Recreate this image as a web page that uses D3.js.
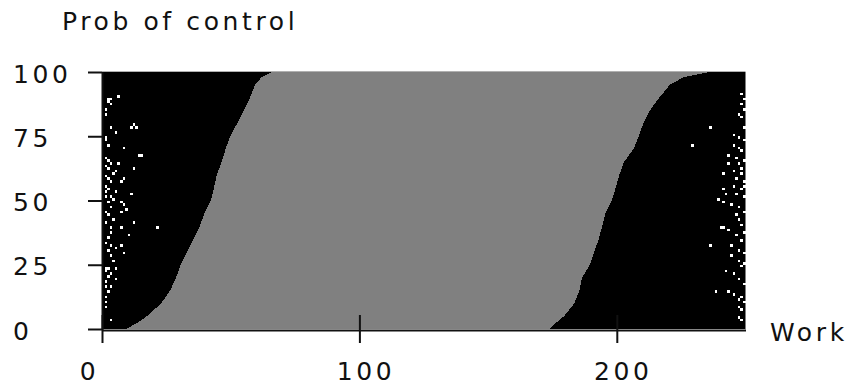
<!DOCTYPE html>
<html>
<head>
<meta charset="utf-8">
<script src="https://cdn.jsdelivr.net/npm/d3@7"></script>
<style>
  body { margin: 0; background: #fff; }
  .lbl { font-family: "DejaVu Sans", sans-serif; font-size: 25px; letter-spacing: 3.6px; fill: #111; }
</style>
</head>
<body>
<div id="chart"></div>
<script>
// probability levels (y) and the work values where the grey band starts / ends
const probLevels = [0, 2.5, 5, 10, 15, 20, 25, 30, 35, 40, 45, 50, 55, 60, 65, 70, 75, 80, 85, 90, 95, 98, 100];
const leftEdge = [9.5, 13.8, 17.5, 23, 26.5, 28.8, 30.5, 33, 35.5, 38, 39.8, 42.3, 43.5, 44.6, 46.5, 48, 49.8, 52.5, 55, 57.5, 59.5, 62, 66];
const rightEdge = [174, 176.5, 179.5, 183.5, 185.5, 186.5, 189.5, 191.2, 193, 194.3, 195.6, 198, 199.6, 201, 202.8, 206.5, 208.5, 210.3, 212.8, 216.5, 220.6, 226, 236];

// white cells [work, prob] in the black regions
const leftSpecks = [
  [2, 89], [3, 89], [2, 88], [3, 87], [6, 90], [1, 85], [1, 83], [3, 78], [5, 76], [11, 78], [12, 79], [13, 78],
  [1, 74], [1, 73], [2, 71], [8, 70], [14, 67], [15, 67], [1, 66], [2, 65], [3, 64], [1, 63], [6, 64], [5, 61],
  [12, 62], [1, 59], [2, 58], [3, 57], [1, 55], [7, 57], [8, 58], [1, 53], [3, 51], [4, 50], [11, 52],
  [1, 51], [2, 49], [3, 47], [1, 45], [7, 49], [8, 48], [9, 46], [7, 45], [12, 41], [21, 39], [1, 41], [3, 39],
  [3, 37], [2, 35], [7, 39], [10, 36], [1, 33], [3, 32], [5, 31], [7, 32], [8, 29], [3, 28], [1, 23], [2, 23],
  [1, 22], [3, 21], [5, 23], [5, 19], [1, 18], [1, 16], [3, 16], [1, 12], [1, 10], [1, 8], [3, 3],
  [2, 62], [4, 60], [2, 54], [5, 53], [2, 44], [4, 42], [2, 30], [4, 26], [2, 20], [2, 14]
];
const rightSpecks = [
  [248, 91], [249, 89], [248, 87], [249, 85], [247, 83], [248, 82], [236, 78], [229, 71], [245, 75], [247, 74],
  [249, 73], [245, 71], [247, 70], [248, 69], [243, 67], [246, 66], [249, 65], [243, 64], [247, 64], [241, 60],
  [245, 61], [248, 60], [246, 58], [249, 57], [245, 55], [248, 54], [241, 54], [242, 52], [246, 52], [249, 51],
  [239, 50], [241, 49], [244, 48], [247, 47], [249, 45], [247, 42], [240, 39], [241, 39], [236, 32], [243, 38],
  [246, 36], [248, 34], [244, 32], [247, 30], [249, 29], [247, 26], [249, 25], [242, 22], [245, 21], [247, 19],
  [238, 14], [243, 14], [245, 13], [247, 11], [249, 10], [247, 8], [248, 7], [247, 4], [248, 3],
  [249, 78], [248, 62], [249, 55], [248, 40], [249, 37], [248, 24], [249, 17], [248, 12], [246, 44], [244, 28]
];

const xTicks = [0, 100, 200];
const yTicks = [0, 25, 50, 75, 100];

const W = 850, H = 387;
const svg = d3.select("#chart").append("svg")
  .attr("width", W)
  .attr("height", H);

const x = d3.scaleLinear().domain([0, 250]).range([102, 745.5]);
const y = d3.scaleLinear().domain([0, 100]).range([329, 72]);

// black background of the plot
svg.append("rect")
  .attr("x", x(0))
  .attr("y", y(100))
  .attr("width", x(250) - x(0))
  .attr("height", y(0) - y(100))
  .attr("fill", "#000");

// grey band
const band = probLevels.map((p, i) => ({ p: p, l: leftEdge[i], r: rightEdge[i] }));
const area = d3.area()
  .y(d => y(d.p))
  .x0(d => x(d.l))
  .x1(d => x(d.r));

svg.append("path")
  .datum(band)
  .attr("fill", "#808080")
  .attr("shape-rendering", "crispEdges")
  .attr("d", area);

// white specks
svg.append("g")
  .selectAll("rect")
  .data(leftSpecks.concat(rightSpecks))
  .join("rect")
  .attr("x", d => x(d[0]))
  .attr("y", d => y(d[1] + 1))
  .attr("width", x(1) - x(0))
  .attr("height", y(0) - y(1))
  .attr("fill", "#fff")
  .attr("shape-rendering", "crispEdges");

// thin top edge
svg.append("line")
  .attr("x1", x(0)).attr("x2", x(250))
  .attr("y1", y(100) - 0.5).attr("y2", y(100) - 0.5)
  .attr("stroke", "#b0b0b0")
  .attr("stroke-width", 1);

// x axis
const xAxisG = svg.append("g")
  .attr("transform", `translate(0,330)`)
  .call(d3.axisBottom(x).tickValues(xTicks).tickSize(13).tickSizeOuter(0));
xAxisG.select(".domain").attr("stroke", "#111").attr("stroke-width", 2);
xAxisG.selectAll(".tick line").attr("stroke", "#111").attr("stroke-width", 2);
xAxisG.selectAll(".tick text")
  .attr("class", "lbl")
  .attr("y", 50)
  .attr("dy", 0)
  .attr("dx", (d, i) => [-13, 6, 6][i]);

// inner part of the x ticks
svg.append("g")
  .attr("transform", `translate(0,330)`)
  .call(d3.axisTop(x).tickValues(xTicks).tickSize(15).tickFormat("").tickSizeOuter(0))
  .call(g => g.select(".domain").remove())
  .selectAll(".tick line").attr("stroke", "#111").attr("stroke-width", 2);

// y axis
const yAxisG = svg.append("g")
  .attr("transform", `translate(${x(0)},0)`)
  .call(d3.axisLeft(y).tickValues(yTicks).tickSize(14).tickSizeOuter(0));
yAxisG.select(".domain").attr("stroke", "#111").attr("stroke-width", 2);
yAxisG.selectAll(".tick line").attr("stroke", "#111").attr("stroke-width", 2);
yAxisG.selectAll(".tick text")
  .attr("class", "lbl")
  .attr("x", 13 - x(0))
  .attr("dy", "0.4em")
  .attr("text-anchor", "start");

// axis titles
svg.append("text")
  .attr("class", "lbl")
  .attr("x", 62)
  .attr("y", 30)
  .text("Prob of control");

svg.append("text")
  .attr("class", "lbl")
  .attr("x", 770)
  .attr("y", 341)
  .text("Work");
</script>
</body>
</html>
